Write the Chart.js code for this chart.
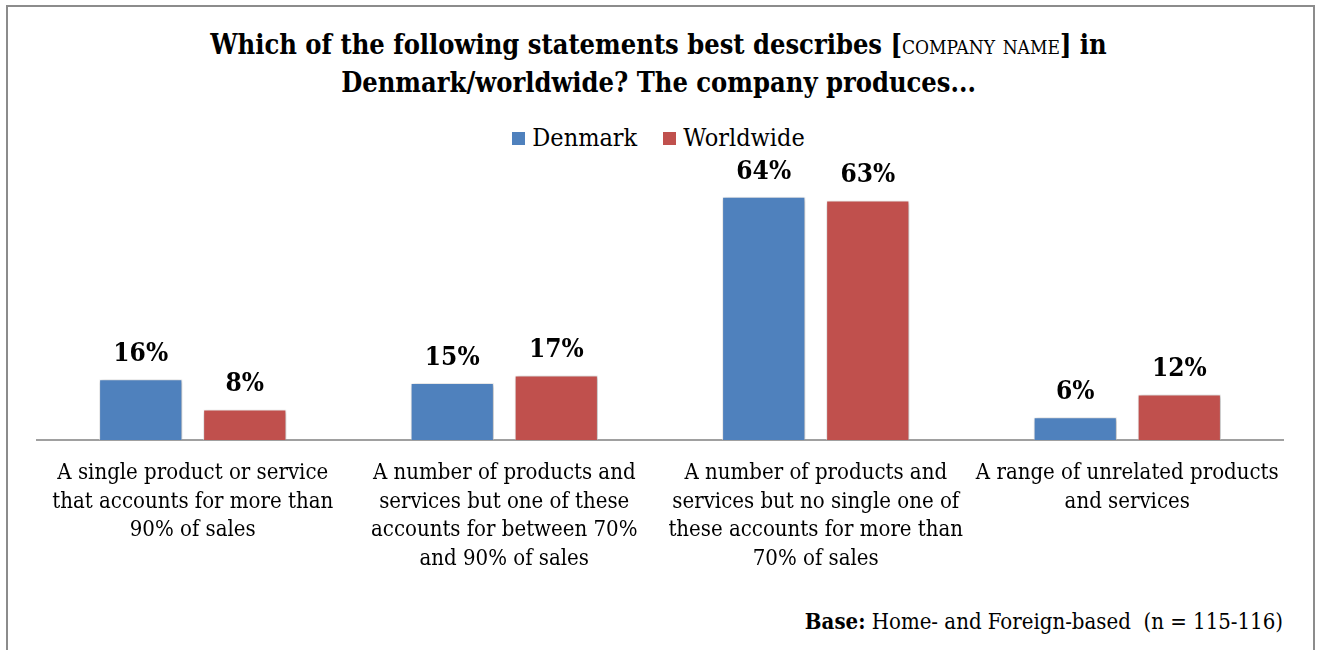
<!DOCTYPE html>
<html>
<head>
<meta charset="utf-8">
<script src="https://cdn.jsdelivr.net/npm/chart.js@4.4.1/dist/chart.umd.min.js"></script>
<style>
    body { margin: 0; background: #fff; }
    #wrap { position: relative; width: 1317px; height: 650px; overflow: hidden; font-family: 'DejaVu Serif Condensed', 'DejaVu Serif', serif; }
    #frame { position: absolute; left: 6px; top: 5px; width: 1305px; height: 700px; border: 2px solid #8c8c8c; }
    #title { position: absolute; left: 0; width: 1317px; top: 26px; text-align: center; font-weight: bold; font-size: 27px; line-height: 38px; color: #000; }
    #title .ph { font-weight: normal; font-variant: small-caps; }
    #legend { position: absolute; left: 0; width: 1317px; top: 124px; text-align: center; font-size: 25px; line-height: 28px; }
    #legend span.item { margin: 0 13px; }
    #legend i { display: inline-block; width: 13px; height: 13px; margin-right: 7px; vertical-align: 1px; }
    #base { position: absolute; right: 34px; top: 606px; font-size: 22px; line-height: 30px; }
    canvas { position: absolute; left: 0; top: 0; }
</style>
</head>
<body>
<div id="wrap">
    <div id="frame"></div>
    <div id="title">Which of the following statements best describes [<span class="ph">company name</span>] in<br>Denmark/worldwide? The company produces...</div>
    <div id="legend"></div>
    <div id="base"><b>Base:</b> Home- and Foreign-based&nbsp; (n = 115-116)</div>
    <canvas id="chart" width="1317" height="650"></canvas>
</div>
<script>
// ==========================================
// DATA
// ==========================================
const categories = [
    ['A single product or service', 'that accounts for more than', '90% of sales'],
    ['A number of products and', 'services but one of these', 'accounts for between 70%', 'and 90% of sales'],
    ['A number of products and', 'services but no single one of', 'these accounts for more than', '70% of sales'],
    ['A range of unrelated products', 'and services']
];
const seriesNames = ['Denmark', 'Worldwide'];
const denmarkValues = [16, 15, 64, 6];
const worldwideValues = [8, 17, 63, 12];
const seriesColors = ['#4f81bd', '#c0504d'];

const FONT = "'DejaVu Serif Condensed', 'DejaVu Serif', serif";

// legend in html so it can sit between title and plot
const legendEl = document.getElementById('legend');
seriesNames.forEach((name, i) => {
    legendEl.innerHTML += `<span class="item"><i style="background:${seriesColors[i]}"></i>${name}</span>`;
});

// soft drop shadow under the bars
const barShadow = {
    id: 'barShadow',
    beforeDatasetsDraw(chart) {
        const ctx = chart.ctx;
        ctx.save();
        ctx.shadowColor = 'rgba(0, 0, 0, 0.35)';
        ctx.shadowBlur = 4;
        ctx.shadowOffsetX = 1;
        ctx.shadowOffsetY = 1;
    },
    afterDatasetsDraw(chart) {
        chart.ctx.restore();
    }
};

// value labels above each bar
const valueLabels = {
    id: 'valueLabels',
    afterDraw(chart) {
        const ctx = chart.ctx;
        ctx.save();
        ctx.font = `bold 26px ${FONT}`;
        ctx.fillStyle = '#000';
        ctx.textAlign = 'center';
        ctx.textBaseline = 'middle';
        chart.data.datasets.forEach((ds, di) => {
            chart.getDatasetMeta(di).data.forEach((bar, i) => {
                ctx.fillText(ds.data[i] + '%', bar.x, bar.y - 25);
            });
        });
        ctx.restore();
    }
};

new Chart(document.getElementById('chart'), {
    type: 'bar',
    data: {
        labels: categories,
        datasets: [
            {
                label: seriesNames[0],
                data: denmarkValues,
                backgroundColor: seriesColors[0],
                borderColor: 'rgba(255,255,255,0.6)',
                borderWidth: 1,
                categoryPercentage: 0.668,
                barPercentage: 0.8
            },
            {
                label: seriesNames[1],
                data: worldwideValues,
                backgroundColor: seriesColors[1],
                borderColor: 'rgba(255,255,255,0.6)',
                borderWidth: 1,
                categoryPercentage: 0.668,
                barPercentage: 0.8
            }
        ]
    },
    options: {
        responsive: false,
        animation: false,
        layout: { padding: { left: 37, right: 34, top: 174, bottom: 0 } },
        scales: {
            x: {
                grid: { display: false },
                border: { display: true, color: '#a0a0a0', width: 2 },
                ticks: {
                    color: '#000',
                    padding: 11,
                    maxRotation: 0,
                    autoSkip: false,
                    font: { family: FONT, size: 22, lineHeight: 1.3 }
                },
                afterFit: scale => { scale.height = 210; }
            },
            y: {
                display: false,
                min: 0,
                max: 70
            }
        },
        plugins: {
            legend: { display: false },
            tooltip: { enabled: false }
        }
    },
    plugins: [barShadow, valueLabels]
});
</script>
</body>
</html>
